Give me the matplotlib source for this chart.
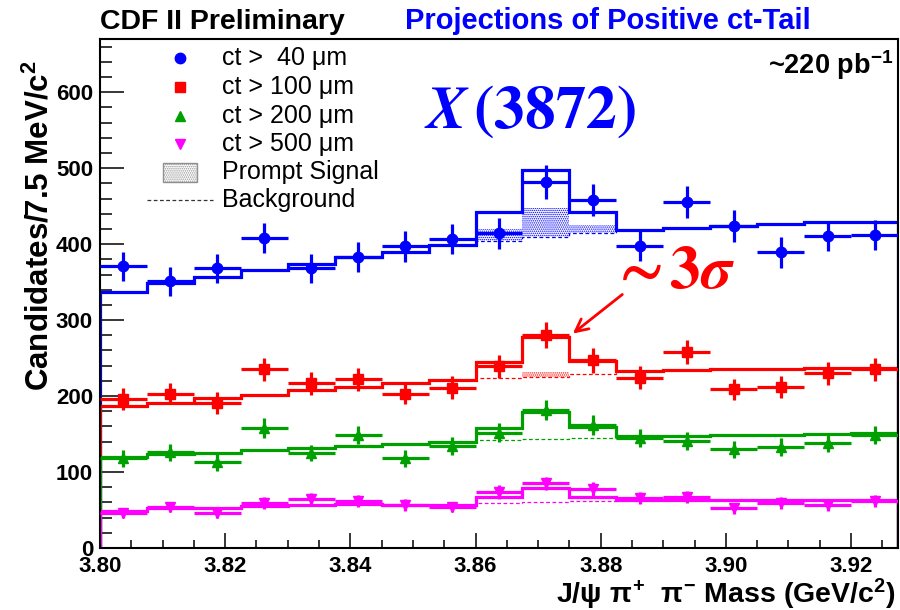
import numpy as np
import matplotlib
matplotlib.use("Agg")
import matplotlib.pyplot as plt
from matplotlib.patches import Rectangle
from matplotlib.lines import Line2D
from matplotlib.ticker import MultipleLocator, FormatStrFormatter

plt.rcParams["font.family"] = ["Liberation Sans", "DejaVu Sans"]
plt.rcParams["mathtext.fontset"] = "custom"
plt.rcParams["mathtext.rm"] = "Liberation Sans:bold"
plt.rcParams["mathtext.it"] = "Liberation Sans:bold"
plt.rcParams["mathtext.bf"] = "Liberation Sans:bold"
plt.rcParams["hatch.linewidth"] = 0.7

# binning: 7.5 MeV bins starting at 3.800 GeV
mass_lo = 3.800
bin_width = 0.0075
n_bins = 17
edges = mass_lo + bin_width * np.arange(n_bins + 1)
centers = edges[:-1] + bin_width / 2

# ct > 40 um
data_40 = [371, 351, 368, 408, 368, 383, 397, 407, 414, 482, 458, 398, 455, 424, 389, 411, 412]
err_40 = [19, 19, 19, 20, 19, 20, 20, 20, 20, 22, 21, 20, 21, 21, 20, 20, 20]
fit_40 = [337, 349, 357, 366, 374, 383, 390, 399, 442, 497, 442, 418, 421, 424, 426, 429, 429]
bkg_40 = [337, 349, 357, 366, 374, 383, 390, 399, 404, 409, 414, 418, 421, 424, 426, 429, 429]
prompt_40 = [0, 0, 0, 0, 0, 0, 0, 0, 16, 38, 11, 0, 0, 0, 0, 0, 0]

# ct > 100 um
data_100 = [196, 203, 191, 235, 217, 222, 203, 211, 239, 280, 247, 224, 258, 209, 212, 230, 235]
err_100 = [14, 14, 14, 15, 15, 15, 14, 15, 15, 17, 16, 15, 16, 14, 15, 15, 15]
fit_100 = [187, 191, 197, 202, 208, 212, 217, 221, 245, 278, 246, 233, 234, 235, 236, 237, 237]
bkg_100 = [187, 191, 197, 202, 208, 212, 217, 221, 224, 225, 229, 233, 234, 235, 236, 237, 237]
prompt_100 = [0, 0, 0, 0, 0, 0, 0, 0, 0, 7, 0, 0, 0, 0, 0, 0, 0]

# ct > 200 um
data_200 = [118, 126, 113, 158, 125, 149, 118, 134, 152, 182, 162, 145, 141, 130, 133, 138, 149]
err_200 = [11, 11, 11, 13, 11, 12, 11, 12, 12, 13, 13, 12, 12, 11, 12, 12, 12]
fit_200 = [120, 124, 125, 129, 132, 134, 137, 139, 158, 179, 159, 147, 148, 149, 149, 150, 151]
bkg_200 = [120, 124, 125, 129, 132, 134, 137, 139, 142, 143, 145, 147, 148, 149, 149, 150, 151]
prompt_200 = [0] * 17

# ct > 500 um
data_500 = [46, 54, 46, 59, 64, 62, 57, 54, 74, 85, 78, 66, 67, 52, 59, 57, 62]
err_500 = [7, 7, 7, 8, 8, 8, 8, 7, 9, 9, 9, 8, 8, 7, 8, 8, 8]
fit_500 = [49, 52, 53, 55, 56, 58, 57, 57, 67, 79, 67, 63, 63, 63, 63, 63, 63]
bkg_500 = [49, 52, 53, 55, 56, 58, 57, 57, 59, 60, 62, 63, 63, 63, 63, 63, 63]
prompt_500 = [0] * 17

series_labels = ["ct >  40 \u03bcm", "ct > 100 \u03bcm", "ct > 200 \u03bcm", "ct > 500 \u03bcm"]
x_tick_values = [3.80, 3.82, 3.84, 3.86, 3.88, 3.90, 3.92]
y_tick_values = [0, 100, 200, 300, 400, 500, 600]

series = [
    (data_40, err_40, fit_40, bkg_40, prompt_40, "#0000ff", "o"),
    (data_100, err_100, fit_100, bkg_100, prompt_100, "#ff0000", "s"),
    (data_200, err_200, fit_200, bkg_200, prompt_200, "#00a000", "^"),
    (data_500, err_500, fit_500, bkg_500, prompt_500, "#ff00ff", "v"),
]

fig = plt.figure(figsize=(9, 6.1), dpi=100)
ax = fig.add_axes([100 / 900, 62 / 610, 798 / 900, 509 / 610])

for data, err, fit, bkg, prompt, col, mk in series:
    bkg = np.asarray(bkg, float)
    top = bkg + np.asarray(prompt, float)
    ax.stairs(top, edges, baseline=bkg, fill=True, facecolor="none",
              edgecolor=col, hatch="........", lw=0, zorder=1.5)
    ax.stairs(bkg, edges, color=col, lw=0.9, ls=(0, (3, 2)), zorder=2)
    ax.stairs(fit, edges, color=col, lw=2.3, zorder=2.2)
    ax.errorbar(centers, data, yerr=err, xerr=bin_width / 2, fmt=mk, color=col,
                ms=7.5, lw=2.3, capsize=0, zorder=3)

ax.set_xlim(edges[0], edges[-1])
ax.set_ylim(0, 670)
ax.set_xticks(x_tick_values)
ax.set_yticks(y_tick_values)
ax.xaxis.set_major_formatter(FormatStrFormatter("%.2f"))
ax.xaxis.set_minor_locator(MultipleLocator(0.005))
ax.yaxis.set_minor_locator(MultipleLocator(20))
ax.tick_params(which="both", direction="in", top=False, right=False, width=1.1,
               labelsize=16)
for lab in ax.get_xticklabels() + ax.get_yticklabels():
    lab.set_fontweight("bold")
ax.xaxis.set_tick_params(which="major", length=11, pad=5.5)
ax.xaxis.set_tick_params(which="minor", length=6)
ax.yaxis.set_tick_params(which="major", length=17, pad=5)
ax.yaxis.set_tick_params(which="minor", length=8.5)
for sp in ax.spines.values():
    sp.set_linewidth(1.5)

# legend drawn row by row
def px(xp, yp):
    return (xp - 100) / 798, (548 - yp) / 509

rows_y = [58, 87, 116, 144]
for (data, err, fit, bkg, prompt, col, mk), lab, yp in zip(series, series_labels, rows_y):
    mx, my = px(180, yp)
    ax.plot([mx], [my], marker=mk, ms=7.5, color=col, transform=ax.transAxes,
            clip_on=False, zorder=5)
    tx, ty = px(222, yp)
    ax.text(tx, ty, lab, transform=ax.transAxes, fontsize=18, va="center", ha="left")

rx0, ry0 = px(163, 182)
rx1, ry1 = px(197, 163)
ax.add_patch(Rectangle((rx0, ry0), rx1 - rx0, ry1 - ry0, transform=ax.transAxes,
                       facecolor="white", edgecolor="#909090", hatch="........", lw=1.0))
tx, ty = px(222, 172)
ax.text(tx, ty, "Prompt Signal", transform=ax.transAxes, fontsize=18, va="center")
lx0, ly = px(147, 200)
lx1, _ = px(213, 200)
ax.add_line(Line2D([lx0, lx1], [ly, ly], transform=ax.transAxes, color="#333333",
                   lw=0.9, ls=(0, (3, 2))))
tx, ty = px(222, 200)
ax.text(tx, ty, "Background", transform=ax.transAxes, fontsize=18, va="center")

# headers and annotations
fig.text(100 / 900, 1 - 29 / 610, "CDF II Preliminary", fontsize=20.5, fontweight="bold",
         va="baseline", ha="left")
fig.text(405 / 900, 1 - 29 / 610, "Projections of Positive ct-Tail", fontsize=21,
         fontweight="bold", color="#0000ff", va="baseline", ha="left")
fig.text(893 / 900, 1 - 74 / 610, r"~220 pb$^{-1}$", fontsize=19.5, fontweight="bold",
         va="baseline", ha="right")

fig.text(424 / 900, 1 - 128 / 610, r"$\boldsymbol{X}\,\mathbf{(3872)}$",
         math_fontfamily="stix", fontsize=44, color="#0000ff", va="baseline", ha="left")

fig.text(610 / 900, 1 - 288 / 610, r"$\boldsymbol{\sim}\mathbf{3}\boldsymbol{\sigma}$",
         math_fontfamily="stix", fontsize=44, color="#ff0000", va="baseline", ha="left")
ax.annotate("", xy=(3.8752, 280), xytext=(3.8838, 336),
            arrowprops=dict(arrowstyle="->,head_length=0.9,head_width=0.45",
                            color="#ff0000", lw=2.0))

fig.text(40 / 900, 1 - 60 / 610, r"Candidates/7.5 MeV/c$^{2}$", rotation=90,
         fontsize=22.5, fontweight="bold", ha="center", va="top")
fig.text(896 / 900, 1 - 603 / 610, r"J/$\psi$ $\pi^{+}$  $\pi^{-}$ Mass (GeV/c$^{2}$)",
         fontsize=20.5, fontweight="bold", ha="right", va="baseline")

fig.savefig("out.png", dpi=100)
